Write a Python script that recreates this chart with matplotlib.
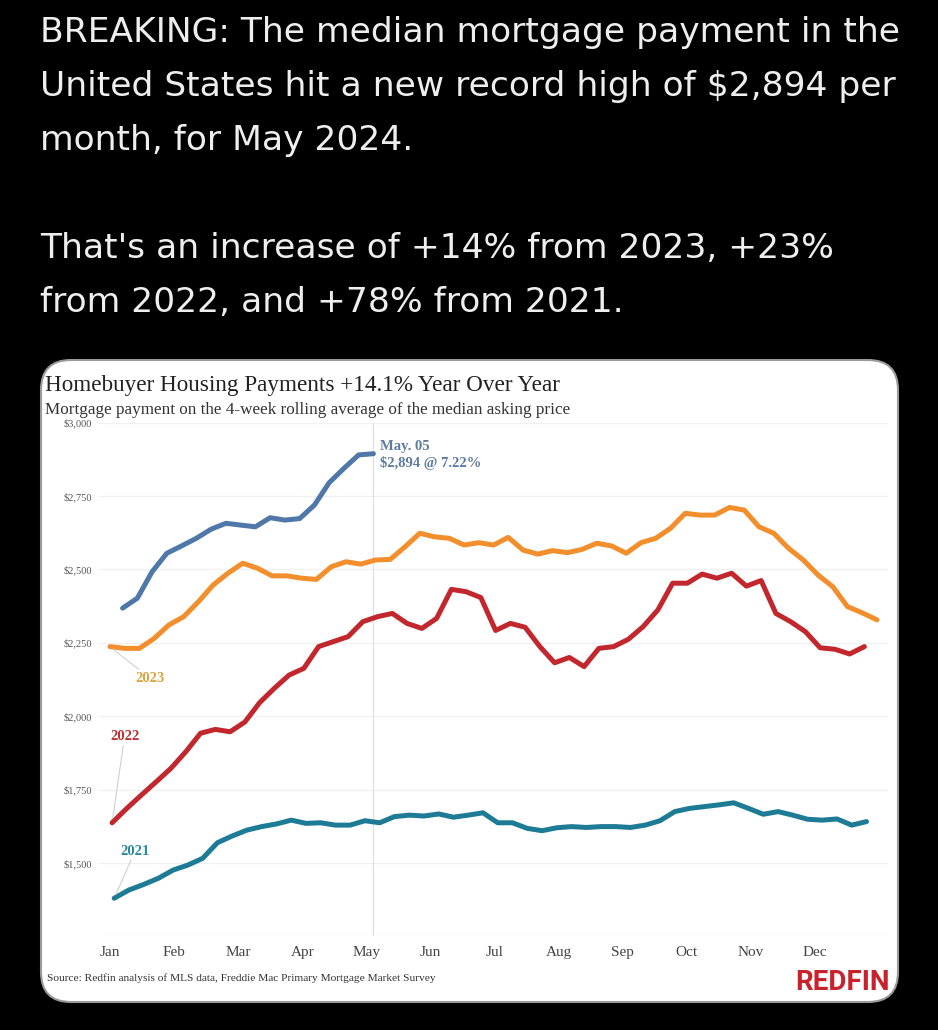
import pandas as pd
import matplotlib.pyplot as plt
from matplotlib.patches import FancyBboxPatch
from matplotlib.ticker import FuncFormatter

# weekly median mortgage payment ($)
pay_2024 = [2368, 2402, 2492, 2555, 2580, 2606, 2637, 2657, 2651, 2645, 2676, 2668,
            2673, 2719, 2795, 2844, 2890, 2894]
pay_2023 = [2237, 2231, 2231, 2265, 2311, 2339, 2390, 2447, 2487, 2521, 2504, 2478,
            2478, 2470, 2466, 2509, 2526, 2518, 2532, 2534, 2577, 2623, 2611, 2606,
            2583, 2591, 2583, 2609, 2566, 2552, 2564, 2557, 2568, 2589, 2580, 2555,
            2591, 2606, 2640, 2691, 2685, 2685, 2711, 2702, 2645, 2623, 2572, 2532,
            2481, 2441, 2373, 2352, 2328]
pay_2022 = [1637, 1686, 1732, 1777, 1823, 1879, 1942, 1955, 1947, 1980, 2046, 2095,
            2140, 2163, 2237, 2254, 2271, 2322, 2339, 2350, 2316, 2299, 2333, 2432,
            2424, 2404, 2292, 2316, 2303, 2237, 2182, 2200, 2169, 2231, 2237, 2262,
            2305, 2362, 2453, 2453, 2484, 2470, 2487, 2443, 2462, 2350, 2322, 2288,
            2233, 2228, 2212, 2237]
pay_2021 = [1380, 1408, 1427, 1448, 1476, 1493, 1516, 1569, 1592, 1612, 1624, 1633,
            1646, 1635, 1637, 1629, 1629, 1644, 1637, 1658, 1663, 1660, 1667, 1656,
            1663, 1671, 1637, 1637, 1618, 1610, 1620, 1624, 1621, 1624, 1624, 1621,
            1629, 1644, 1675, 1686, 1692, 1698, 1705, 1686, 1666, 1675, 1663, 1649,
            1646, 1650, 1629, 1641]

first_sunday = {'2024': '2024-01-07', '2023': '2023-01-01',
                '2022': '2022-01-02', '2021': '2021-01-03'}
line_colors = {'2024': '#4f78a8', '2023': '#f28e2b', '2022': '#c1272d', '2021': '#1d7b96'}
label_colors = {'2023': '#d9a441', '2022': '#b83236', '2021': '#2a8aa0'}

months = ['Jan', 'Feb', 'Mar', 'Apr', 'May', 'Jun',
          'Jul', 'Aug', 'Sep', 'Oct', 'Nov', 'Dec']
yticks = [1250, 1500, 1750, 2000, 2250, 2500, 2750, 3000]

header_lines = ["BREAKING: The median mortgage payment in the",
                "United States hit a new record high of \\$2,894 per",
                "month, for May 2024.",
                "",
                "That's an increase of +14% from 2023, +23%",
                "from 2022, and +78% from 2021."]

SERIF = ['Liberation Serif', 'DejaVu Serif']
W, H = 938, 1030


def fx(px):
    return px / W


def fy(py):
    return 1 - py / H


fig = plt.figure(figsize=(W / 100, H / 100), dpi=100)
fig.patch.set_facecolor('black')

for i, line in enumerate(header_lines):
    fig.text(fx(40), fy(42 + 54 * i), line, color='#eeeeee', fontsize=24.8,
             family='DejaVu Sans', va='baseline')

# white card behind the chart
card = FancyBboxPatch((0.41, (H - 1002) / 100), 8.57, 6.42,
                      boxstyle='round,pad=0,rounding_size=0.3',
                      transform=fig.dpi_scale_trans, facecolor='white',
                      edgecolor='#9a9a9a', linewidth=1.5, zorder=-1)
fig.add_artist(card)

fig.text(fx(45), fy(385), 'Homebuyer Housing Payments +14.1% Year Over Year',
         family=SERIF, fontsize=16.7, color='#222222', va='center')
fig.text(fx(45), fy(410), 'Mortgage payment on the 4-week rolling average of the median asking price',
         family=SERIF, fontsize=12.3, color='#333333', va='center')

ax = fig.add_axes([fx(99), fy(936.4), (888 - 99) / W, (936.4 - 422.6) / H])
ax.set_facecolor('white')

data = {'2021': pay_2021, '2022': pay_2022, '2023': pay_2023, '2024': pay_2024}
days = {}
for year, vals in data.items():
    dates = pd.date_range(first_sunday[year], periods=len(vals), freq='7D')
    days[year] = (dates - pd.Timestamp(year + '-01-01')).days
    ax.plot(days[year], vals, color=line_colors[year], lw=3.6,
            solid_joinstyle='round', solid_capstyle='round', zorder=3)

last_day, last_val = days['2024'][-1], pay_2024[-1]
ax.axvline(last_day, color='#e2e2e2', lw=1, zorder=1)
ax.annotate('May. 05', (last_day, last_val), xytext=(5, 5), textcoords='offset points',
            family=SERIF, fontsize=10.5, fontweight='bold', color='#5d7b9c', va='center')
ax.annotate('\\$2,894 @ 7.22%', (last_day, last_val), xytext=(5, -6.5),
            textcoords='offset points', family=SERIF, fontsize=10.5,
            fontweight='bold', color='#5d7b9c', va='center')

# year labels with thin leader lines to the first point
label_offsets = {'2023': (29, -23), '2022': (9, 62), '2021': (15, 34)}
for year, off in label_offsets.items():
    ax.annotate(year, (days[year][0], data[year][0]), xytext=off,
                textcoords='offset points', ha='center', va='center',
                family=SERIF, fontsize=10.5, fontweight='bold',
                color=label_colors[year],
                arrowprops=dict(arrowstyle='-', color='#d0d0d0', lw=0.8,
                                shrinkA=0, shrinkB=3))

ax.set_xlim(-5.2, 369.2)
ax.set_ylim(1250, 3000)
ax.set_xticks([i * 365 / 12 for i in range(12)])
ax.set_xticklabels(months)
ax.set_yticks(yticks)
ax.yaxis.set_major_formatter(FuncFormatter(
    lambda v, p: '' if v == 1250 else '\\$' + format(int(v), ',')))
ax.yaxis.grid(True, color='#f0f0f0', lw=0.9)
ax.set_axisbelow(True)
ax.tick_params(length=0)
ax.tick_params(axis='y', pad=5, labelsize=7.5, labelcolor='#555555')
ax.tick_params(axis='x', pad=7, labelsize=11, labelcolor='#444444')
for lab in ax.get_xticklabels() + ax.get_yticklabels():
    lab.set_family(SERIF)
for s in ax.spines.values():
    s.set_visible(False)

fig.text(fx(47), fy(978),
         'Source: Redfin analysis of MLS data, Freddie Mac Primary Mortgage Market Survey',
         family=SERIF, fontsize=8.2, color='#333333', va='center')
fig.text(fx(890), fy(982), 'REDFIN', family='Roboto', fontweight='bold',
         fontsize=20, color='#c8232c', ha='right', va='center')

fig.savefig('out.png', dpi=100, facecolor='black')
